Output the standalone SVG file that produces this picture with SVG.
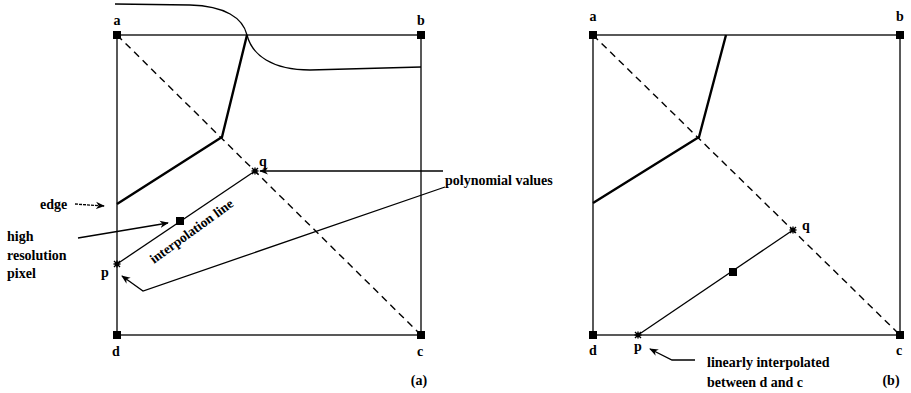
<svg xmlns="http://www.w3.org/2000/svg" width="911" height="393" viewBox="0 0 911 393">
<style>
.t{font-family:"Liberation Serif","Times New Roman",serif;font-weight:bold;fill:#000}
.lbl{font-size:14px;text-anchor:middle}
.txt{font-size:14px}
.box{fill:none;stroke:#000;stroke-width:1.3}
.diag{fill:none;stroke:#000;stroke-width:1.4;stroke-dasharray:7 5}
.edge{fill:none;stroke:#000;stroke-width:2.4;stroke-linejoin:miter}
.thin{fill:none;stroke:#000;stroke-width:1.3}
.arr{fill:none;stroke:#000;stroke-width:1.3;marker-end:url(#ah)}
.corner{fill:#000}
</style>
<defs>
<marker id="ah" viewBox="0 0 10 10" refX="9" refY="5" markerWidth="9" markerHeight="9" markerUnits="userSpaceOnUse" orient="auto">
<path d="M0,1 L10,5 L0,9 L3,5 Z" fill="#000"/>
</marker>
<g id="star"><path d="M-3,-3 L3,3 M-3,3 L3,-3 M0,-3.5 L0,3.5 M-3.5,0 L3.5,0" stroke="#000" stroke-width="1.4"/><circle r="1.8" fill="#000"/></g>
</defs>

<g id="panel-a">
<g id="box-a">
<rect class="box" x="117" y="35" width="304" height="300"/>
<line class="diag" x1="117" y1="35" x2="421" y2="335"/>
</g>
<g id="curve-a"><path class="thin" d="M115,4 L190,5 C225,6 243,18 247,35 C252,55 272,70 310,70 L421,67"/></g>
<g id="edge-a"><polyline class="edge" points="247,35 222,137 117,204"/></g>
<g id="interp-a"><line class="thin" x1="117" y1="264" x2="255" y2="171"/></g>
<g id="corner-a-a"><rect class="corner" x="113" y="31" width="8" height="8"/><text class="t lbl" x="117" y="25">a</text></g>
<g id="corner-a-b"><rect class="corner" x="417" y="31" width="8" height="8"/><text class="t lbl" x="421" y="25">b</text></g>
<g id="corner-a-c"><rect class="corner" x="417" y="331" width="8" height="8"/><text class="t lbl" x="420" y="356">c</text></g>
<g id="corner-a-d"><rect class="corner" x="113" y="331" width="8" height="8"/><text class="t lbl" x="116" y="356">d</text></g>
<g id="point-a-q"><use href="#star" x="255" y="171"/><text class="t lbl" x="263" y="166">q</text></g>
<g id="point-a-p"><use href="#star" x="117" y="264"/><text class="t lbl" x="105" y="277">p</text></g>
<g id="pixel-a"><rect class="corner" x="176" y="217" width="8" height="8"/></g>
<text class="t" font-size="13.5" transform="translate(154,264) rotate(-36)">interpolation line</text>
<text class="t txt" x="40" y="209">edge</text>
<text class="t txt" x="7" y="241">high</text>
<text class="t txt" x="7" y="260">resolution</text>
<text class="t txt" x="7" y="278">pixel</text>
<text class="t txt" x="445" y="185">polynomial values</text>
<text class="t lbl" x="419" y="385">(a)</text>
</g>

<g id="panel-b">
<g id="box-b">
<rect class="box" x="593" y="35" width="307" height="300"/>
<line class="diag" x1="593" y1="35" x2="900" y2="335"/>
</g>
<g id="edge-b"><polyline class="edge" points="726,35 699,137 593,203"/></g>
<g id="interp-b"><line class="thin" x1="638" y1="335" x2="793" y2="230"/></g>
<g id="corner-b-a"><rect class="corner" x="589" y="31" width="8" height="8"/><text class="t lbl" x="593" y="21">a</text></g>
<g id="corner-b-b"><rect class="corner" x="896" y="31" width="8" height="8"/><text class="t lbl" x="900" y="21">b</text></g>
<g id="corner-b-c"><rect class="corner" x="896" y="331" width="8" height="8"/><text class="t lbl" x="899" y="355">c</text></g>
<g id="corner-b-d"><rect class="corner" x="589" y="331" width="8" height="8"/><text class="t lbl" x="593" y="355">d</text></g>
<g id="point-b-q"><use href="#star" x="793" y="230"/><text class="t lbl" x="806" y="230">q</text></g>
<g id="point-b-p"><use href="#star" x="638" y="335"/><text class="t lbl" x="638" y="351">p</text></g>
<g id="pixel-b"><rect class="corner" x="729" y="268" width="8" height="8"/></g>
<text class="t txt" x="707" y="367">linearly interpolated</text>
<text class="t txt" x="707" y="387">between d and c</text>
<text class="t lbl" x="891" y="385">(b)</text>
</g>

<g id="connectors">
<line class="arr" x1="75" y1="204" x2="104" y2="206" stroke-dasharray="3 1"/>
<line class="arr" x1="443" y1="171" x2="260" y2="171"/>
<polyline class="arr" points="445,187 143,291 122,276"/>
<line class="arr" x1="78" y1="238" x2="168" y2="223"/>
<polyline class="arr" points="695,360 672,360 650,349"/>
</g>
</svg>
